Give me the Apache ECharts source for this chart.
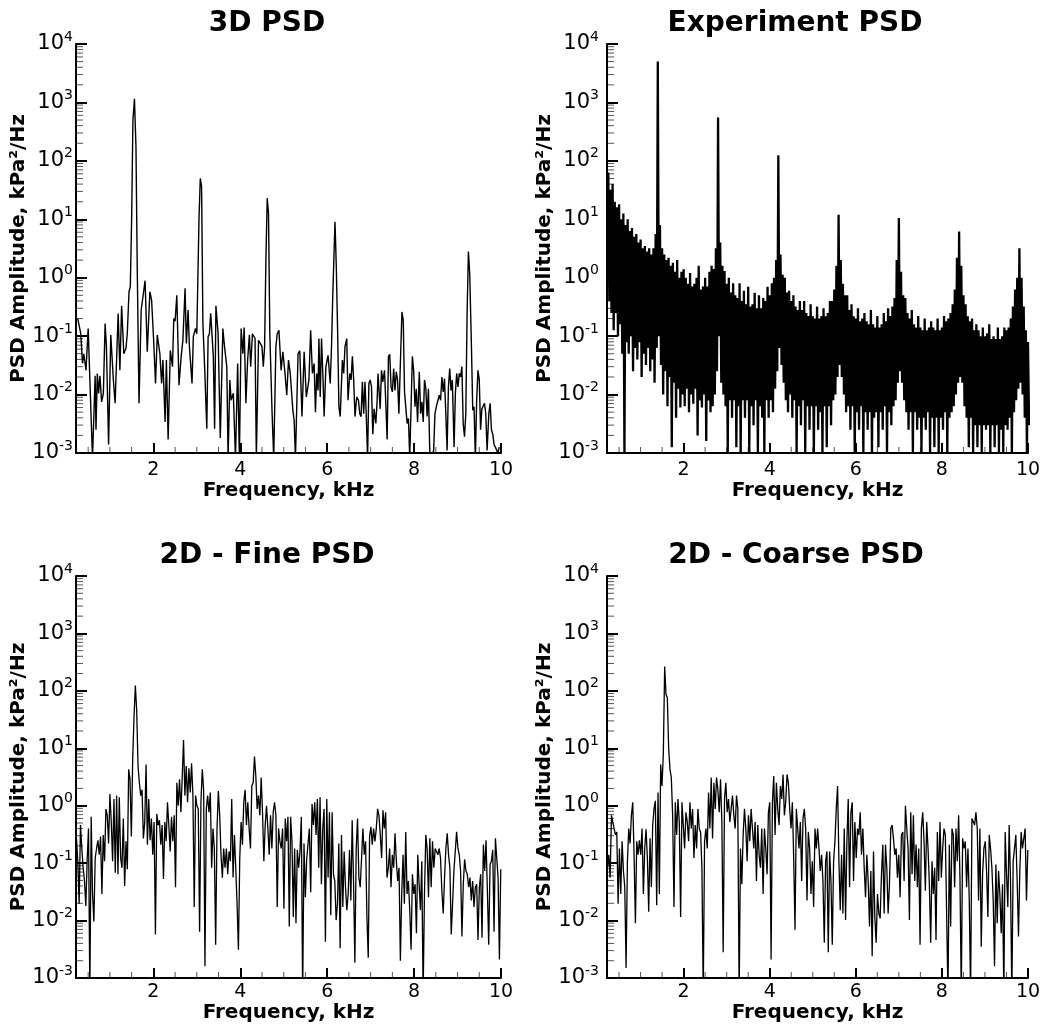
<!DOCTYPE html>
<html><head><meta charset="utf-8">
<script src="https://cdn.jsdelivr.net/npm/echarts@6/dist/echarts.min.js"></script>
<style>html,body{margin:0;padding:0;background:#fff}#c{width:1047px;height:1032px}</style>
</head><body><div id="c"></div>
<script>
const FONT = 'DejaVu Sans';
const titles = ['3D PSD', 'Experiment PSD', '2D - Fine PSD', '2D - Coarse PSD'];
const xName = 'Frequency, kHz';
const yName = 'PSD Amplitude, kPa²/Hz';
const X_MIN = 0.22, X_MAX = 10, Y_MIN = 0.001, Y_MAX = 10000;
const xTickValues = [2, 4, 6, 8, 10];
const xMinorTickValues = [0.5, 1, 1.5, 2.5, 3, 3.5, 4.5, 5, 5.5, 6.5, 7, 7.5, 8.5, 9, 9.5];
const yMinorTickValues = [0.002,0.003,0.004,0.005,0.006,0.007,0.008,0.009,
  0.02,0.03,0.04,0.05,0.06,0.07,0.08,0.09, 0.2,0.3,0.4,0.5,0.6,0.7,0.8,0.9,
  2,3,4,5,6,7,8,9, 20,30,40,50,60,70,80,90, 200,300,400,500,600,700,800,900,
  2000,3000,4000,5000,6000,7000,8000,9000];

// ---- 3D PSD (frequency kHz, amplitude) ----
const freq3D = [0.26,0.33,0.37,0.40,0.45,0.50,0.54,0.60,0.66,0.68,
 0.71,0.74,0.77,0.81,0.85,0.89,0.92,0.97,1.02,1.08,
 1.12,1.19,1.23,1.27,1.32,1.37,1.40,1.44,1.47,1.50,
 1.53,1.565,1.60,1.63,1.67,1.72,1.76,1.81,1.86,1.92,
 1.96,2.01,2.05,2.09,2.15,2.19,2.22,2.27,2.30,2.34,
 2.39,2.44,2.47,2.50,2.54,2.59,2.64,2.68,2.73,2.76,
 2.80,2.83,2.89,2.92,2.97,3.00,3.05,3.08,3.11,3.14,
 3.18,3.23,3.26,3.29,3.32,3.35,3.38,3.41,3.44,3.49,
 3.54,3.60,3.63,3.69,3.72,3.76,3.79,3.84,3.89,3.94,
 3.98,4.02,4.06,4.09,4.13,4.17,4.21,4.24,4.28,4.34,
 4.37,4.42,4.46,4.50,4.53,4.56,4.59,4.62,4.65,4.68,
 4.73,4.77,4.82,4.85,4.89,4.94,4.98,5.03,5.07,5.11,
 5.15,
 5.21,5.24,5.27,5.30,5.33,5.37,5.42,5.47,5.52,5.58,
 5.62,5.66,5.70,5.73,5.76,5.79,5.81,5.84,5.87,5.90,
 5.93,5.97,6.02,6.07,6.10,6.13,6.18,6.21,6.24,6.27,
 6.30,6.35,6.38,6.41,6.45,6.48,6.52,6.55,6.58,6.61,
 6.64,6.68,6.72,6.75,6.78,6.81,6.84,6.87,6.90,6.93,
 6.96,6.99,7.02,7.05,7.08,7.12,7.15,7.17,7.19,7.22,
 7.25,7.28,7.32,7.35,7.38,7.41,7.44,7.47,7.50,7.53,
 7.56,7.59,7.62,7.65,7.68,7.72,7.75,7.78,7.81,7.84,
 7.87,7.90,7.93,7.96,7.99,8.02,8.05,8.08,8.12,8.15,
 8.18,8.21,8.24,8.27,8.30,8.33,8.36,8.39,8.42,8.45,
 8.48,8.52,8.55,8.58,8.61,8.64,8.67,8.70,8.73,8.76,
 8.79,8.82,8.85,8.88,8.92,8.95,8.98,9.01,9.04,9.07,
 9.10,9.13,9.16,9.19,9.22,9.25,9.28,9.32,9.35,9.38,
 9.41,9.44,9.47,9.50,9.53,9.56,9.59,9.62,9.65,9.68,
 9.72,9.75,9.78,9.81,9.84,9.87,9.90,9.93,9.96];
const psd3D = [0.20,0.11,0.034,0.05,0.026,0.135,0.126,0.0008,0.021,0.0025,
 0.023,0.0105,0.021,0.0075,0.0105,0.165,0.066,0.0014,0.105,0.0178,
 0.0071,0.245,0.026,0.33,0.05,0.062,0.11,0.575,0.70,9.8,
 500,1150,175,1.35,0.0071,0.28,0.28,0.89,0.054,0.575,
 0.41,0.075,0.0155,0.105,0.05,0.0155,0.039,0.0034,0.039,0.0017,
 0.057,0.030,0.20,0.18,0.50,0.0145,0.045,0.085,0.66,0.075,
 0.28,0.066,0.0155,0.098,0.135,0.11,9.8,50,36,0.165,
 0.030,0.0026,0.098,0.11,0.245,0.26,0.045,0.0026,0.33,0.11,
 0.0018,0.135,0.075,0.030,0.0008,0.0178,0.0080,0.0105,0.0008,0.034,
 0.0008,0.135,0.05,0.14,0.0071,0.039,0.105,0.030,0.11,0.091,
 0.0008,0.085,0.075,0.066,0.030,0.066,2.0,23,12.6,0.11,
 0.0054,0.0008,0.066,0.11,0.126,0.026,0.054,0.023,0.0098,0.039,
 0.023,
 0.0054,0.0036,0.0008,0.0008,0.05,0.056,0.0042,0.054,0.0091,0.0178,
 0.126,0.023,0.034,0.0050,0.023,0.0118,0.091,0.0091,0.091,0.023,
 0.0042,0.030,0.047,0.0155,0.066,0.54,9.1,1.55,0.126,0.0062,
 0.0042,0.039,0.023,0.066,0.091,0.0080,0.023,0.0178,0.045,0.0178,
 0.0042,0.0091,0.0080,0.0047,0.0042,0.0165,0.0047,0.0165,0.0042,0.0008,
 0.0155,0.0178,0.0135,0.0021,0.0057,0.0032,0.0080,0.023,0.023,0.0057,
 0.026,0.0165,0.026,0.028,0.0017,0.045,0.049,0.0135,0.0111,0.028,
 0.0118,0.0245,0.0178,0.0047,0.026,0.26,0.19,0.0111,0.0105,0.0032,
 0.0039,0.0008,0.0008,0.045,0.026,0.0062,0.0126,0.0034,0.0245,0.0047,
 0.0075,0.0034,0.0178,0.0126,0.0042,0.0126,0.0011,0.0008,0.0008,0.0011,
 0.0047,0.0066,0.0080,0.0098,0.0080,0.020,0.0111,0.0187,0.0047,0.0011,
 0.0135,0.028,0.0118,0.0178,0.00126,0.0105,0.023,0.0135,0.023,0.020,
 0.030,0.0032,0.0019,0.0047,0.245,2.8,1.18,0.066,0.0054,0.0062,
 0.0008,0.0080,0.026,0.0178,0.0025,0.0057,0.0054,0.0071,0.0047,0.0011,
 0.0047,0.0071,0.0025,0.0021,0.0014,0.00126,0.00126,0.001,0.00126];

// ---- 2D fine PSD: uniform frequency bins ----
const fineStart = 0.20, fineStep = 0.0308;
const psdFine = [0.31,0.27,0.108,0.0196,0.46,0.18,0.083,0.049,0.018,0.116,
 0.40,0.0005,0.64,0.029,0.0096,0.123,0.18,0.25,0.14,0.29,
 0.029,0.31,0.108,0.88,0.68,0.22,1.6,0.52,0.108,1.31,
 0.068,1.5,0.064,1.4,0.123,0.083,0.60,0.040,0.24,0.078,
 4.3,2.9,0.29,6.3,35,124,45,4.9,2.5,1.5,
 1.9,0.27,0.52,5.2,0.21,1.31,0.25,0.60,0.14,0.52,
 0.0057,0.72,0.46,0.56,0.21,0.46,0.053,0.52,0.24,1.15,
 0.46,0.16,0.64,0.24,0.68,0.038,2.5,1.0,2.9,0.77,
 3.1,13.9,1.5,4.9,1.15,4.5,1.7,5.5,1.5,0.0172,
 1.5,1.0,0.88,0.0064,1.15,4.3,1.9,0.0016,0.88,1.5,
 0.77,1.7,0.083,0.40,0.18,0.0038,0.40,1.8,0.68,0.14,
 0.056,0.18,0.083,0.18,0.064,0.16,0.108,1.31,0.056,0.31,
 0.083,0.0196,0.0031,0.123,0.52,0.21,1.15,1.9,0.46,1.15,
 0.40,0.18,2.2,2.5,7.2,3.3,0.88,1.5,0.68,3.1,
 0.77,0.108,0.46,1.0,0.40,0.14,0.68,0.18,0.77,1.15,
 0.68,0.0172,0.40,0.24,0.18,0.40,0.0161,0.60,0.24,0.64,
 0.0079,
 0.64,0.24,0.0116,0.18,0.0090,0.17,0.083,0.16,0.64,0.0005,
 0.22,0.0255,0.116,0.108,0.40,0.031,1.07,0.46,1.15,0.31,
 1.31,0.083,1.4,0.043,0.40,0.88,0.0043,1.31,0.056,0.77,
 0.0124,0.77,0.064,0.049,0.0102,0.0196,0.22,0.0033,0.31,0.0172,
 0.16,0.038,0.0151,0.029,0.17,0.0224,0.56,0.049,0.00185,0.18,
 0.60,0.056,0.038,0.123,0.40,0.14,0.24,0.0116,0.00225,0.29,
 0.43,0.21,0.40,0.24,0.40,0.88,0.68,0.31,0.123,0.83,
 0.40,0.77,0.056,0.083,0.18,0.038,0.14,0.083,0.33,0.108,
 0.049,0.083,0.0020,0.029,0.14,0.0196,0.35,0.029,0.049,0.0151,
 0.0031,0.064,0.029,0.043,0.0060,0.14,0.043,0.0151,0.108,0.0005,
 0.029,0.31,0.18,0.0255,0.27,0.038,0.24,0.083,0.18,0.16,
 0.14,0.18,0.123,0.033,0.0133,0.056,0.18,0.33,0.14,0.083,
 0.0057,0.0196,0.073,0.16,0.35,0.18,0.14,0.073,0.0053,0.043,
 0.116,0.073,0.064,0.038,0.056,0.0224,0.049,0.0172,0.038,0.043,
 0.0046,0.038,0.064,0.0050,0.21,0.073,0.25,0.033,0.0038,0.095,
 0.108,0.17,0.0064,0.27,0.123,0.056,0.0021,0.078];

// ---- 2D coarse PSD: uniform frequency bins ----
const coarseStart = 0.20, coarseStep = 0.0309;
const psdCoarse = [0.18,0.083,0.14,0.056,0.68,0.68,0.40,0.31,0.35,0.0196,
 0.18,0.029,0.24,0.073,0.038,0.0015,0.108,0.40,0.22,0.68,
 1.15,0.14,0.0090,0.24,0.14,0.25,0.14,0.40,0.029,0.18,
 0.39,0.123,0.0142,0.27,0.038,0.46,0.88,1.22,0.0184,1.7,
 0.029,5.2,2.2,8.2,265,87,76,10,4.3,3.1,
 0.68,0.0172,1.15,0.31,1.31,0.52,0.0116,1.15,0.46,0.18,
 0.77,0.52,0.24,1.15,0.40,0.88,0.123,0.46,0.18,0.88,
 0.40,0.35,0.083,0.0005,0.24,0.40,0.18,1.7,0.40,3.1,
 0.27,2.5,0.88,3.1,1.9,0.77,2.9,0.52,0.0028,1.31,
 2.5,0.77,1.31,0.52,0.88,1.5,0.68,0.40,1.5,0.88,
 0.0005,0.18,0.043,0.31,0.88,0.40,0.108,0.68,0.24,0.88,
 0.40,0.18,0.52,0.049,0.46,0.14,0.083,0.40,0.029,0.40,
 0.18,0.064,0.77,1.15,0.0021,1.15,3.3,0.31,2.5,0.88,
 0.46,2.2,1.31,3.5,0.68,1.15,3.5,2.5,0.88,0.40,
 1.15,0.123,0.0069,0.88,0.40,0.18,0.52,0.049,0.60,0.88,
 0.40,0.0224,0.35,0.18,0.029,0.108,0.0172,0.40,0.18,0.40,
 0.18,0.073,0.14,0.049,0.0041,0.108,0.16,0.0028,0.16,0.049,
 0.0038,0.108,0.24,0.88,2.2,0.108,0.0151,0.14,0.0133,0.40,
 0.0102,0.24,1.31,0.038,0.77,1.15,0.049,0.52,0.123,0.40,
 0.31,0.77,0.14,0.40,0.083,0.0255,0.14,0.049,0.0079,0.073,
 0.0024,0.16,0.0116,0.0041,0.029,0.0133,0.0109,0.064,0.21,0.0133,
 0.21,0.083,0.0133,0.043,0.40,0.46,0.27,0.14,0.18,0.056,
 0.14,0.0255,0.31,0.35,0.049,1.0,0.40,0.18,0.0102,0.77,
 0.064,0.68,0.049,0.21,0.038,0.18,0.0038,0.40,0.77,0.24,
 0.033,0.52,0.18,0.043,0.0041,0.108,0.029,0.083,0.0046,0.35,
 0.049,0.52,0.056,0.18,0.40,0.31,0.0124,0.0005,0.21,0.0079,
 0.40,0.31,0.038,0.40,0.108,0.68,0.056,0.0005,0.27,0.18,
 0.24,0.038,0.18,0.0224,0.0005,0.60,0.64,0.46,0.77,0.40,
 0.0224,0.40,0.0035,0.064,0.18,0.24,0.073,0.0116,0.31,0.18,
 0.083,0.0224,0.0016,0.095,0.0090,0.073,0.029,0.0060,0.043,0.0005,
 0.35,0.064,0.0172,0.46,0.049,0.0005,0.108,0.18,0.31,0.049,
 0.0053,0.073,0.35,0.18,0.18,0.40,0.0224,0.17];

// ---- Experiment PSD: read as spike tops and troughs of the dense trace ----
const expTopStart = 0.25, expTroughStart = 0.275, expStep = 0.05;
const expTops = [63,32,40,20,16,18,10,12.6,8,10,
 6.3,7.1,5,5.6,4,4.5,3.2,3.5,2.8,3.2,
 2.5,3.2,5.6,5000,8,3.2,2.5,2,2.2,1.6,
 1.8,1.26,2.0,1,1.26,1.4,1,0.79,1.2,0.71,
 0.79,1.0,1.6,0.63,0.71,1.0,0.71,1.26,1.6,1.41,
 3.2,550,4,1.6,1.3,0.79,1.0,0.56,0.8,0.5,
 0.45,0.8,0.4,0.6,0.35,0.7,0.32,0.35,0.55,0.3,
 0.5,0.3,0.45,0.4,0.7,0.5,0.8,1,2,125,
 2.5,1.12,1.0,0.56,0.6,0.4,0.5,0.32,0.28,0.4,
 0.28,0.4,0.25,0.22,0.35,0.22,0.2,0.32,0.2,0.22,
 0.3,0.22,0.25,0.4,0.4,0.63,1.6,12,2,0.79,
 0.5,0.5,0.28,0.35,0.22,0.2,0.3,0.18,0.2,0.25,
 0.18,0.16,0.28,0.16,0.14,0.22,0.14,0.16,0.25,0.18,
 0.3,0.22,0.32,0.45,2,10.5,1.26,0.5,0.45,0.25,
 0.2,0.28,0.16,0.14,0.22,0.14,0.126,0.2,0.126,0.14,
 0.18,0.14,0.126,0.2,0.126,0.14,0.22,0.18,0.2,0.25,
 0.35,0.63,2.2,6.2,1.6,0.5,0.35,0.22,0.18,0.2,
 0.126,0.16,0.126,0.1,0.14,0.1,0.112,0.16,0.089,0.1,
 0.089,0.14,0.089,0.1,0.14,0.126,0.14,0.2,0.32,0.63,
 1,3.2,1,0.32,0.126,0.079];
const expTroughs = [0.4,0.25,0.126,0.25,0.1,0.16,0.05,0.001,0.079,0.05,
 0.1,0.025,0.063,0.04,0.079,0.02,0.05,0.032,0.063,0.025,
 0.04,0.016,0.063,0.1,0.032,0.01,0.025,0.0063,0.02,0.00126,
 0.016,0.004,0.0126,0.006,0.01,0.0063,0.0126,0.005,0.01,0.007,
 0.0126,0.002,0.0079,0.006,0.01,0.0016,0.0079,0.005,0.0063,0.01,
 0.025,0.1,0.016,0.01,0.0063,0.001,0.008,0.004,0.008,0.00126,
 0.0063,0.001,0.008,0.004,0.008,0.001,0.0063,0.003,0.008,0.001,
 0.0063,0.004,0.001,0.008,0.004,0.008,0.005,0.0126,0.025,0.063,
 0.032,0.016,0.008,0.005,0.01,0.004,0.008,0.001,0.0063,0.003,
 0.008,0.001,0.0063,0.0025,0.0063,0.001,0.0063,0.0025,0.005,0.001,
 0.0063,0.00126,0.0063,0.003,0.008,0.01,0.02,0.032,0.02,0.01,
 0.005,0.0063,0.0025,0.0063,0.001,0.005,0.0025,0.0063,0.001,0.005,
 0.0025,0.005,0.001,0.004,0.005,0.00126,0.005,0.0025,0.0063,0.001,
 0.005,0.003,0.0063,0.008,0.016,0.025,0.016,0.008,0.005,0.0025,
 0.005,0.001,0.005,0.0025,0.004,0.001,0.004,0.0025,0.005,0.001,
 0.004,0.00126,0.004,0.001,0.004,0.0025,0.005,0.001,0.004,0.005,
 0.0063,0.01,0.016,0.02,0.016,0.0063,0.004,0.00126,0.004,0.001,
 0.003,0.00126,0.003,0.001,0.003,0.0025,0.003,0.001,0.003,0.00126,
 0.003,0.001,0.0025,0.001,0.003,0.0025,0.004,0.001,0.005,0.008,
 0.0126,0.016,0.01,0.004,0.001,0.003];

// ---------- build ----------
const data3D = freq3D.map((f, i) => [f, psd3D[i]]);
const dataFine = psdFine.map((v, i) => [fineStart + i * fineStep, v]);
const dataCoarse = psdCoarse.map((v, i) => [coarseStart + i * coarseStep, v]);
const dataExp = [];
expTops.forEach((v, i) => {
  dataExp.push([expTopStart + i * expStep, v]);
  dataExp.push([expTroughStart + i * expStep, expTroughs[i]]);
});

const grids = [
  {left: 76, top: 44, width: 425, height: 409},
  {left: 607, top: 44, width: 421, height: 409},
  {left: 76, top: 576, width: 425, height: 402},
  {left: 607, top: 576, width: 421, height: 402}
];
const yLabelMargin = [3, 8, 3, 8];
const yNameGap = [47, 44, 47, 44];
const xNameGap = [26, 26, 22, 22];
const xLabelMargin = [8, 8, 5, 5];
const titlePos = [[262, 5], [790, 5], [262, 537], [791, 537]];

const xAxes = grids.map((g, i) => ({
  type: 'value', gridIndex: i, min: X_MIN, max: X_MAX,
  axisLine: {show: true, onZero: false, lineStyle: {color: '#000', width: 2}},
  axisTick: {show: true, inside: true, length: 10, customValues: xTickValues, lineStyle: {color: '#000', width: 2}},
  axisLabel: {show: true, customValues: xTickValues, color: '#000', fontSize: 19, fontFamily: FONT, margin: xLabelMargin[i]},
  splitLine: {show: false},
  name: xName, nameLocation: 'middle', nameGap: xNameGap[i],
  nameTextStyle: {fontSize: 20, fontWeight: 'bold', color: '#000', fontFamily: FONT}
}));
const yAxes = grids.map((g, i) => ({
  type: 'log', logBase: 10, gridIndex: i, min: Y_MIN, max: Y_MAX, splitNumber: 7,
  axisLine: {show: true, onZero: false, lineStyle: {color: '#000', width: 2}},
  axisTick: {show: true, inside: true, length: 11, lineStyle: {color: '#000', width: 2}},
  axisLabel: {
    margin: yLabelMargin[i],
    formatter: v => '{b|10}{s|' + Math.round(Math.log10(v)) + '}',
    rich: {
      b: {fontSize: 21, lineHeight: 28, fontFamily: FONT, color: '#000'},
      s: {fontSize: 14, lineHeight: 14, verticalAlign: 'top', fontFamily: FONT, color: '#000'}
    }
  },
  splitLine: {show: false},
  name: yName, nameLocation: 'middle', nameRotate: 90, nameGap: yNameGap[i],
  nameTextStyle: {fontSize: 20, fontWeight: 'bold', color: '#000', fontFamily: FONT}
}));

function lineSeries(idx, data, w) {
  return {type: 'line', xAxisIndex: idx, yAxisIndex: idx, data: data, showSymbol: false,
    symbol: 'none', clip: true, animation: false, silent: true,
    lineStyle: {color: '#000', width: w}, itemStyle: {color: '#000'}};
}
function yMinorSeries(idx) {
  return {type: 'custom', xAxisIndex: idx, yAxisIndex: idx, silent: true, animation: false,
    data: yMinorTickValues.map(v => [X_MIN, v]),
    renderItem: (params, api) => {
      const p = api.coord([api.value(0), api.value(1)]);
      return {type: 'line', shape: {x1: p[0] + 1, y1: p[1], x2: p[0] + 7, y2: p[1]},
        style: {stroke: '#555', lineWidth: 1}};
    }};
}
function xMinorSeries(idx) {
  return {type: 'custom', xAxisIndex: idx, yAxisIndex: idx, silent: true, animation: false,
    data: xMinorTickValues.map(f => [f, Y_MIN]),
    renderItem: (params, api) => {
      const p = api.coord([api.value(0), api.value(1)]);
      return {type: 'line', shape: {x1: p[0], y1: p[1] - 1, x2: p[0], y2: p[1] - 6},
        style: {stroke: '#555', lineWidth: 1}};
    }};
}

const chart = echarts.init(document.getElementById('c'), null, {renderer: 'canvas'});
chart.setOption({
  backgroundColor: '#fff',
  animation: false,
  title: titles.map((t, i) => ({
    text: t, left: titlePos[i][0], top: titlePos[i][1], textAlign: 'center',
    textStyle: {fontSize: 28, fontWeight: 'bold', color: '#000', fontFamily: FONT}
  })),
  grid: grids,
  xAxis: xAxes,
  yAxis: yAxes,
  series: [
    lineSeries(0, data3D, 1.4),
    lineSeries(1, dataExp, 2.3),
    lineSeries(2, dataFine, 1.3),
    lineSeries(3, dataCoarse, 1.3),
    yMinorSeries(0), yMinorSeries(1), yMinorSeries(2), yMinorSeries(3),
    xMinorSeries(0), xMinorSeries(1), xMinorSeries(2), xMinorSeries(3)
  ]
});
</script></body></html>
